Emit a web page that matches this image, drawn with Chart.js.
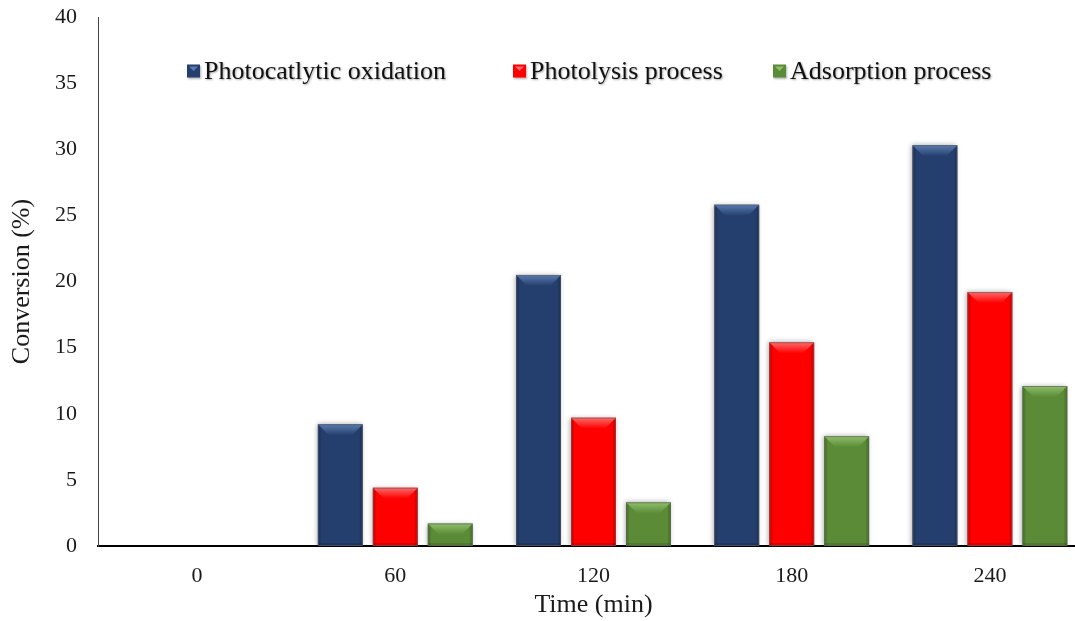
<!DOCTYPE html>
<html>
<head>
<meta charset="utf-8">
<script src="https://cdn.jsdelivr.net/npm/chart.js@4/dist/chart.umd.min.js"></script>
<style>
  html, body { margin: 0; padding: 0; background: #fff; overflow: hidden; }
  #wrap { width: 1090px; height: 621px; }
</style>
</head>
<body>
<div id="wrap"><canvas id="myChart" width="1090" height="621"></canvas></div>
<script>
// values
const timeLabels = ["0", "60", "120", "180", "240"];
const photocatalytic = [0, 9.2, 20.5, 25.8, 30.3];
const photolysis = [0, 4.4, 9.7, 15.4, 19.2];
const adsorption = [0, 1.7, 3.3, 8.3, 12.1];

const seriesNames = ["Photocatlytic oxidation", "Photolysis process", "Adsorption process"];
const barColors = ["#243f6e", "#fe0000", "#5b8b37"];
const topColors = ["#5a7bb0", "#ff6a6a", "#8fbf6a"];

const serif = "'Liberation Serif', 'Times New Roman', serif";

// soft drop shadow under the bars
const barShadow = {
    id: "barShadow",
    beforeDatasetsDraw(chart) {
        const ctx = chart.ctx;
        ctx.save();
        ctx.shadowColor = "rgba(0,0,0,0.35)";
        ctx.shadowBlur = 5;
        ctx.shadowOffsetX = -1;
        ctx.shadowOffsetY = 0;
    },
    afterDatasetsDraw(chart) {
        chart.ctx.restore();
    }
};

// bevelled look on top of each bar
const bevel = {
    id: "bevel",
    afterDatasetsDraw(chart) {
        const ctx = chart.ctx;
        chart.data.datasets.forEach((ds, i) => {
            chart.getDatasetMeta(i).data.forEach(bar => {
                const h = bar.base - bar.y;
                if (h < 2) return;
                const l = bar.x - bar.width / 2, r = bar.x + bar.width / 2;
                const t = bar.y, b = bar.base;
                const d = Math.min(11, h / 2);
                ctx.save();
                // top facet
                const g = ctx.createLinearGradient(0, t, 0, t + d);
                g.addColorStop(0, topColors[i]);
                g.addColorStop(1, barColors[i]);
                ctx.fillStyle = g;
                ctx.beginPath();
                ctx.moveTo(l, t);
                ctx.lineTo(r, t);
                ctx.lineTo(r - d, t + d);
                ctx.lineTo(l + d, t + d);
                ctx.closePath();
                ctx.fill();
                // darker side edges
                ctx.fillStyle = "rgba(0,0,0,0.12)";
                ctx.fillRect(l, t + 2, 3, h - 2);
                ctx.fillRect(r - 3, t + 2, 3, h - 2);
                ctx.fillRect(l, b - 3, r - l, 3);
                ctx.strokeStyle = "rgba(90,90,90,0.6)";
                ctx.lineWidth = 1;
                ctx.strokeRect(l + 0.5, t + 0.5, r - l - 1, h - 1);
                ctx.restore();
            });
        });
    }
};

// legend drawn inside the plot area, Excel style
const innerLegend = {
    id: "innerLegend",
    afterDraw(chart, args, opts) {
        const ctx = chart.ctx;
        const area = chart.chartArea;
        ctx.save();
        ctx.font = "26px " + serif;
        ctx.textBaseline = "middle";
        chart.data.datasets.forEach((ds, i) => {
            const x = area.left + opts.offsets[i];
            const y = opts.y;
            const s = 13;
            ctx.shadowColor = "rgba(0,0,0,0.3)";
            ctx.shadowBlur = 2;
            ctx.shadowOffsetX = 1;
            ctx.shadowOffsetY = 1;
            ctx.fillStyle = ds.backgroundColor;
            ctx.fillRect(x, y - s / 2, s, s);
            ctx.shadowColor = "transparent";
            ctx.fillStyle = topColors[i];
            ctx.beginPath();
            ctx.moveTo(x + 2, y - s / 2 + 2);
            ctx.lineTo(x + s - 2, y - s / 2 + 2);
            ctx.lineTo(x + s / 2, y);
            ctx.closePath();
            ctx.fill();
            ctx.shadowColor = "rgba(0,0,0,0.35)";
            ctx.shadowBlur = 2;
            ctx.fillStyle = "#111";
            ctx.fillText(ds.label, x + s + 4, y + 1);
        });
        ctx.restore();
    }
};

new Chart("myChart", {
    type: "bar",
    data: {
        labels: timeLabels,
        datasets: [
            { label: seriesNames[0], data: photocatalytic, backgroundColor: barColors[0] },
            { label: seriesNames[1], data: photolysis, backgroundColor: barColors[1] },
            { label: seriesNames[2], data: adsorption, backgroundColor: barColors[2] }
        ]
    },
    plugins: [barShadow, bevel, innerLegend],
    options: {
        responsive: false,
        animation: false,
        devicePixelRatio: 1,
        categoryPercentage: 0.832,
        barPercentage: 0.818,
        layout: { padding: { top: 17, right: 1, left: 0, bottom: 0 } },
        plugins: {
            legend: { display: false },
            tooltip: { enabled: false },
            innerLegend: { y: 71, offsets: [89, 415, 675] }
        },
        scales: {
            x: {
                grid: { display: false, drawTicks: false },
                border: { display: true, color: "#000", width: 2 },
                ticks: { color: "#1a1a1a", padding: 17, font: { family: serif, size: 22, lineHeight: 1.2 } },
                title: {
                    display: true, text: "Time (min)", color: "#1a1a1a",
                    padding: { top: 0, bottom: 0 },
                    font: { family: serif, size: 26, lineHeight: 1.2 }
                },
                afterFit(s) { s.height = 75; }
            },
            y: {
                min: 0, max: 40,
                grid: { display: false, drawTicks: false },
                border: { display: true, color: "#444", width: 1 },
                ticks: { stepSize: 5, color: "#1a1a1a", padding: 21, font: { family: serif, size: 22, lineHeight: 1.2 } },
                title: {
                    display: true, text: "Conversion (%)", color: "#1a1a1a",
                    padding: { top: 7, bottom: 0 },
                    font: { family: serif, size: 26, lineHeight: 1.2 }
                },
                afterFit(s) {
                    s.width = 98;
                    s.paddingTop = 0;
                    s.paddingBottom = 0;
                }
            }
        }
    }
});
</script>
</body>
</html>
